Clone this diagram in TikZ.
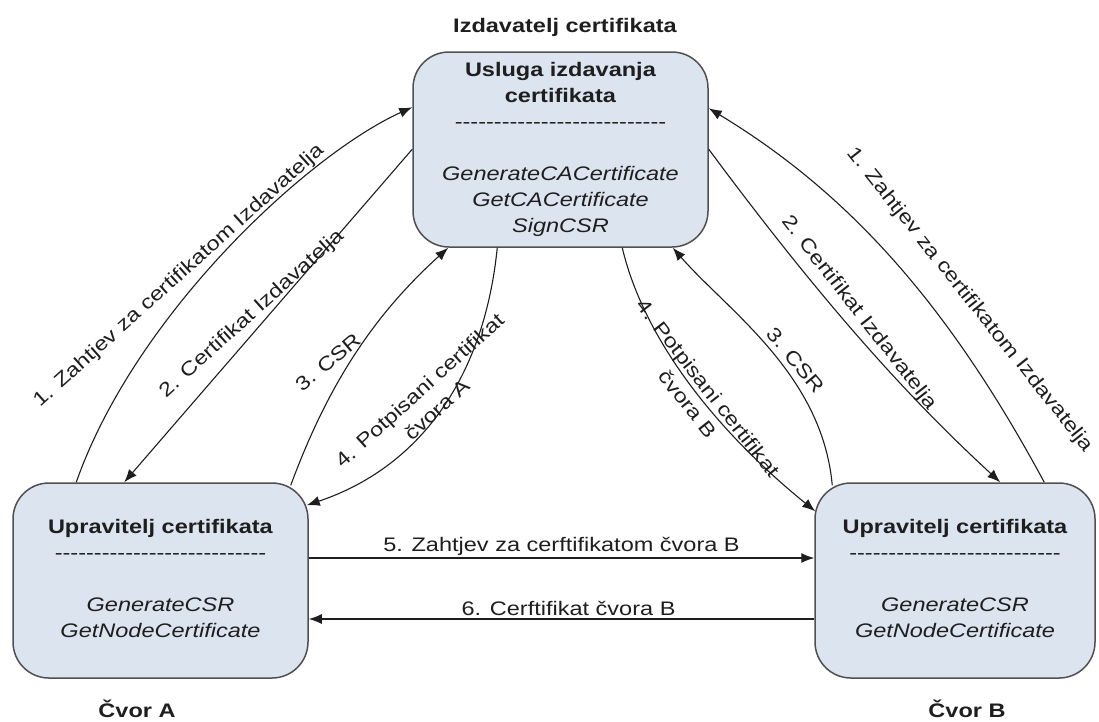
\documentclass[tikz,border=0pt]{standalone}
\usepackage{fontspec}
\setmainfont{Liberation Sans}[FakeStretch=1.2]
\usetikzlibrary{arrows.meta,calc}
\definecolor{boxfill}{RGB}{220,228,240}
\definecolor{boxline}{RGB}{80,80,80}
\definecolor{ink}{RGB}{30,30,30}
\newcommand\diafont{\fontsize{19.6}{26}\selectfont}
\newcommand\dsh{-\kern0pt}
\newcommand\dashrow{\dsh\dsh\dsh\dsh\dsh\dsh\dsh\dsh\dsh\dsh\dsh\dsh\dsh\dsh\dsh\dsh\dsh\dsh\dsh\dsh\dsh\dsh\dsh\dsh\dsh\dsh\dsh}
\begin{document}
\begin{tikzpicture}[x=1pt,y=-1pt,
  every node/.style={font=\diafont, text=ink},
  svc/.style={draw=boxline, line width=1.5pt, fill=boxfill, rounded corners=36pt,
    minimum width=295pt, minimum height=195pt, inner sep=0pt, align=center},
  msg/.style={draw=ink, line width=1.1pt, -{Latex[length=13pt,width=10pt]}},
  lbl/.style={inner sep=0pt, align=center},
  ttl/.style={inner sep=0pt, anchor=base, font=\diafont\bfseries}]
\useasboundingbox (0,0) rectangle (1099,721);

% service boxes
\node[svc] (T) at (560.5,149.5) {\textbf{Usluga izdavanja}\\ \textbf{certifikata}\\ \dashrow\\ \mbox{}\\
  \textit{GenerateCACertificate}\\ \textit{GetCACertificate}\\ \textit{SignCSR}};
\node[svc] (A) at (160.5,580.5) {\textbf{Upravitelj certifikata}\\ \dashrow\\ \mbox{}\\
  \textit{GenerateCSR}\\ \textit{GetNodeCertificate}\rule[-5pt]{0pt}{5pt}};
\node[svc, minimum width=280pt] (B) at (955,580.5) {\textbf{Upravitelj certifikata}\\ \dashrow\\ \mbox{}\\
  \textit{GenerateCSR}\\ \textit{GetNodeCertificate}\rule[-5pt]{0pt}{5pt}};

% titles
\node[ttl] (caT) at (565,32) {Izdavatelj certifikata};
\node[ttl] (nA) at (137,717) {Čvor A};
\node[ttl] (nB) at (967,717) {Čvor B};

% node A <-> certificate authority
\draw[msg] ($(A.north west)+(64,0)$) .. controls +(59,-168) and +(-104,47) .. ($(T.north west)+(0,56)$);
\draw[msg] ($(T.north west)+(0,98)$) .. controls +(-95,110) and +(95,-110) .. ($(A.north west)+(112,0)$);
\draw[msg] ($(A.north east)+(-18,3)$) .. controls +(38,-103) and +(-73,66) .. ($(T.south west)+(36,0)$);
\draw[msg] ($(T.south west)+(85,0)$) .. controls +(-13,130) and +(113,-38) .. ($(A.north east)+(-2,23)$);

% node B <-> certificate authority
\draw[msg] ($(T.south west)+(210,0)$) .. controls +(20,85) and +(-107,-87) .. ($(B.north west)+(1,29)$);
\draw[msg] ($(B.north west)+(18,3)$) .. controls +(-10,-111) and +(55,63) .. ($(T.south east)+(-36,0)$);
\draw[msg] ($(T.north east)+(0,98)$) .. controls +(106,143) and +(-99,-91) .. ($(B.north west)+(186,0)$);
\draw[msg] ($(B.north west)+(230,0)$) .. controls +(-95,-176) and +(142,86) .. ($(T.north east)+(0,57)$);

% node A <-> node B
\draw[msg] ($(A.east)+(0,-22.5)$) -- ($(B.west)+(0,-22.5)$);
\draw[msg] ($(B.west)+(0,38.5)$) -- ($(A.east)+(0,38.5)$);

% message labels
\node[lbl, rotate=42] (l1) at (179,276) {1. Zahtjev za certifikatom Izdavatelja};
\node[lbl, rotate=42] (l2) at (252,314) {2. Certifikat Izdavatelja};
\node[lbl, rotate=40] (l3) at (328,362) {3. CSR};
\node[lbl, rotate=42] (l4) at (428,400) {4. Potpisani certifikat\\ čvora A};
\node[lbl, rotate=-52] (r4) at (698,396) {4. Potpisani certifikat\\ čvora B};
\node[lbl, rotate=-50] (r3) at (796,360) {3. CSR};
\node[lbl, rotate=-52] (r2) at (859,313) {2. Certifikat Izdavatelja};
\node[lbl, rotate=-51.5] (r1) at (970,300) {1. Zahtjev za certifikatom Izdavatelja};
\node[lbl, anchor=base] (l5) at (561.5,551) {5. Zahtjev za cerftifikatom čvora B};
\node[lbl, anchor=base] (l6) at (568.5,615) {6. Cerftifikat čvora B};
\end{tikzpicture}
\end{document}
